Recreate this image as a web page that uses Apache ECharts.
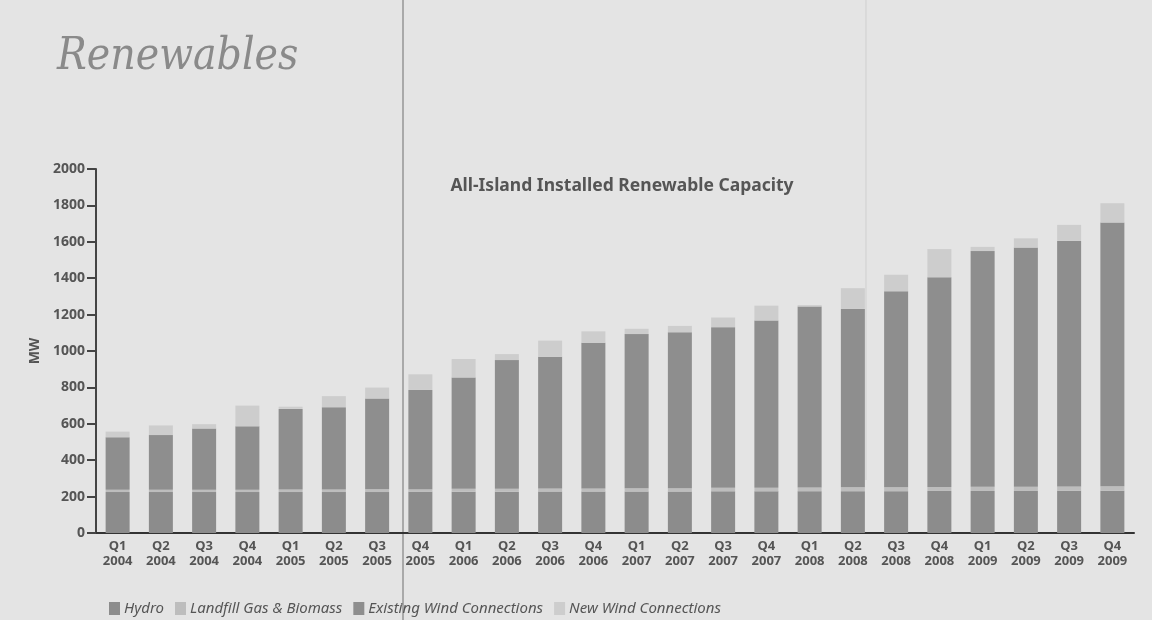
<!DOCTYPE html>
<html>
<head>
<meta charset="utf-8">
<script src="https://cdn.jsdelivr.net/npm/echarts@6/dist/echarts.min.js"></script>
<style>html,body{margin:0;padding:0;background:#e4e4e4;}#c{width:1152px;height:620px;}</style>
</head>
<body>
<div id="c"></div>
<script>
const categories = ['Q1\n2004','Q2\n2004','Q3\n2004','Q4\n2004','Q1\n2005','Q2\n2005','Q3\n2005','Q4\n2005',
  'Q1\n2006','Q2\n2006','Q3\n2006','Q4\n2006','Q1\n2007','Q2\n2007','Q3\n2007','Q4\n2007',
  'Q1\n2008','Q2\n2008','Q3\n2008','Q4\n2008','Q1\n2009','Q2\n2009','Q3\n2009','Q4\n2009'];
const hydro    = [225,225,225,225,225,225,225,226,227,227,228,228,228,228,229,229,230,230,230,231,231,231,232,232];
const landfill = [12,12,13,13,14,14,15,15,16,16,17,17,18,18,19,19,20,21,21,22,23,23,24,25];
const existingWind = [289,301,336,348,443,452,499,545,612,707,724,800,847,857,883,920,995,980,1077,1152,1295,1314,1349,1449];
const newWind  = [31,53,24,114,12,61,60,86,101,33,88,63,29,35,53,81,7,114,91,155,23,51,88,106];
const yTicks = {min:0, max:2000, interval:200};

const chart = echarts.init(document.getElementById('c'));
const barW = 24;
chart.setOption({
  backgroundColor: '#e4e4e4',
  animation: false,
  title: [
    {text:'Renewables', left:52, top:31, textStyle:{fontFamily:'DejaVu Serif Condensed', fontStyle:'italic', fontWeight:'normal', fontSize:44, color:'#8a8a8a'}},
    {text:'All-Island Installed Renewable Capacity', left:617, top:172, textAlign:'center', textStyle:{fontFamily:'Noto Sans', fontWeight:'bold', fontSize:17.5, color:'#555'}}
  ],
  graphic: [
    {type:'line', shape:{x1:403,y1:0,x2:403,y2:620}, style:{stroke:'#6e6e6e', lineWidth:1}, z:-1},
    {type:'line', shape:{x1:866,y1:0,x2:866,y2:480}, style:{stroke:'#cfcfcf', lineWidth:1}, z:-1}
  ],
  legend: {
    left: 104, top: 596, icon: 'rect', itemWidth: 11, itemHeight: 13, itemGap: 11,
    textStyle: {fontFamily:'Noto Sans', fontStyle:'italic', fontSize:15, color:'#555', padding:[0,0,0,-1]},
    data: ['Hydro','Landfill Gas & Biomass','Existing Wind Connections','New Wind Connections']
  },
  grid: {left:96, right:18, top:169, bottom:87},
  xAxis: {
    type:'category', data: categories,
    axisLine:{lineStyle:{color:'#333', width:2}},
    axisTick:{show:false},
    axisLabel:{interval:0, color:'#555', fontFamily:'Noto Sans', fontWeight:'bold', fontSize:13, lineHeight:15, margin:6}
  },
  yAxis: {
    type:'value', min:yTicks.min, max:yTicks.max, interval:yTicks.interval,
    name:'MW', nameLocation:'middle', nameRotate:90, nameGap:52,
    nameTextStyle:{fontFamily:'Noto Sans', fontWeight:'bold', fontSize:14, color:'#555'},
    axisLine:{show:true, lineStyle:{color:'#444', width:2}},
    axisTick:{show:true, length:9, lineStyle:{color:'#444', width:2}},
    axisLabel:{color:'#555', fontFamily:'Noto Sans', fontWeight:'bold', fontSize:14, margin:11, formatter: v => String(v)},
    splitLine:{show:false}
  },
  series: [
    {name:'Hydro', type:'bar', stack:'t', barWidth:barW, data:hydro, itemStyle:{color:'#8c8c8c'}},
    {name:'Landfill Gas & Biomass', type:'bar', stack:'t', barWidth:barW, data:landfill, itemStyle:{color:'#bdbdbd'}},
    {name:'Existing Wind Connections', type:'bar', stack:'t', barWidth:barW, data:existingWind, itemStyle:{color:'#8e8e8e'}},
    {name:'New Wind Connections', type:'bar', stack:'t', barWidth:barW, data:newWind, itemStyle:{color:'#cdcdcd'}}
  ]
});
</script>
</body>
</html>
